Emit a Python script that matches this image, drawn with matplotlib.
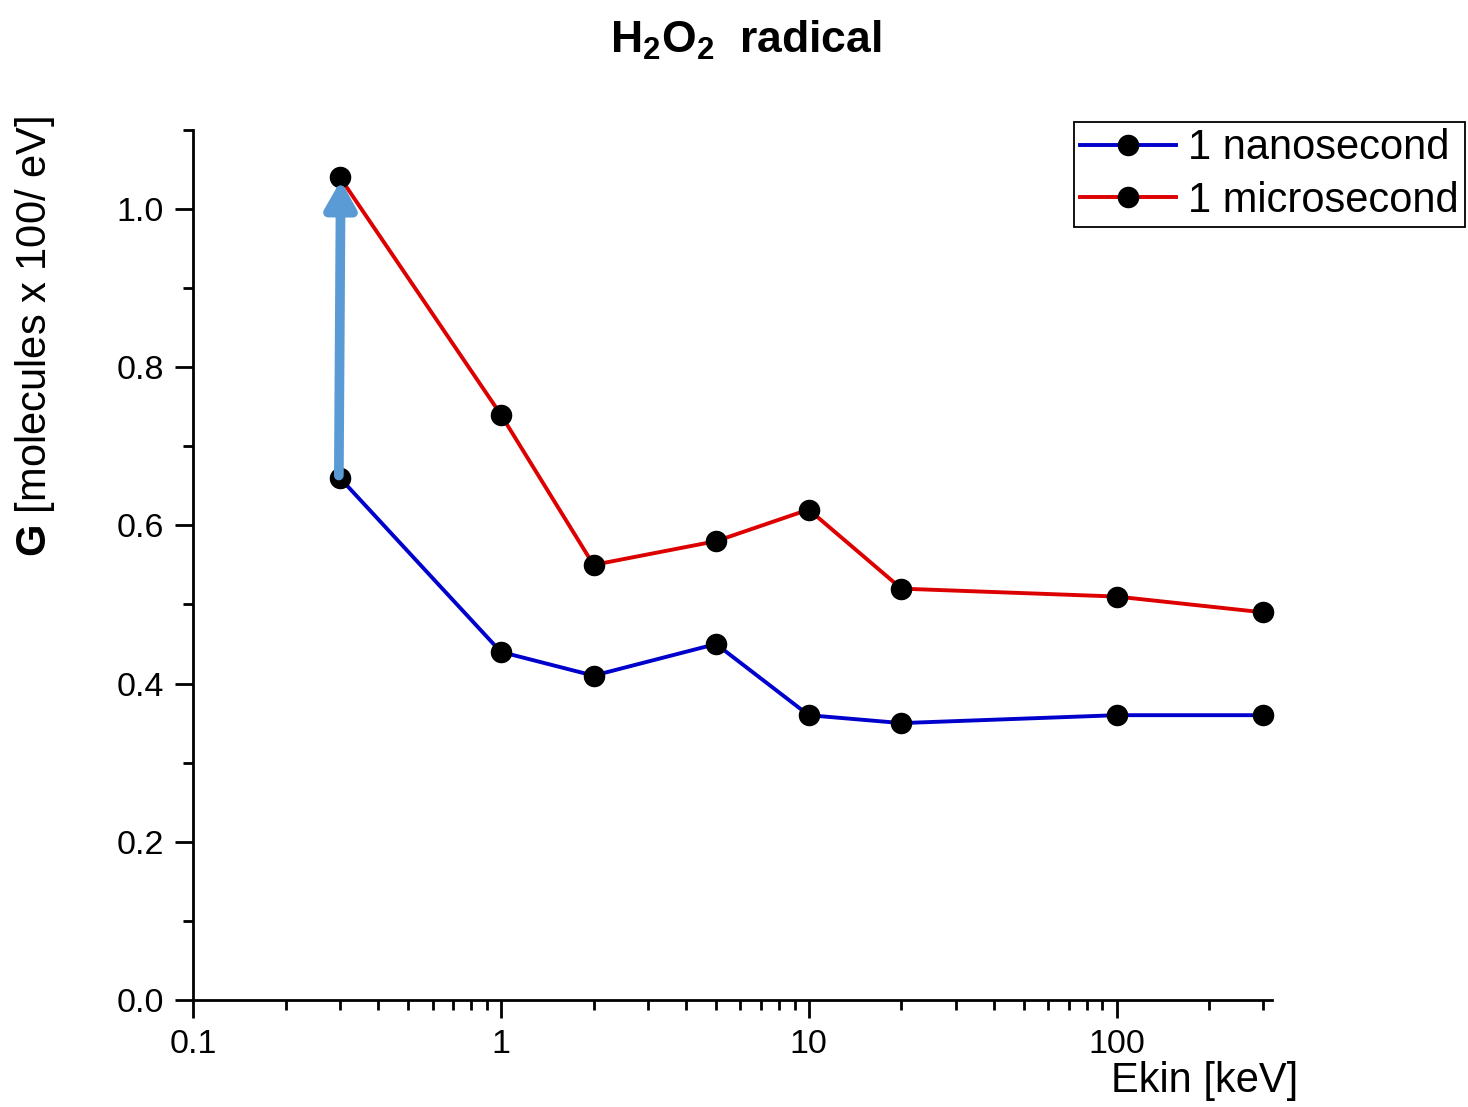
import matplotlib.pyplot as plt
from matplotlib.ticker import LogLocator, MultipleLocator, FixedLocator, FixedFormatter

plt.rcParams['font.family'] = ['Liberation Sans', 'DejaVu Sans']
plt.rcParams['mathtext.fontset'] = 'custom'
plt.rcParams['mathtext.rm'] = 'Liberation Sans'
plt.rcParams['mathtext.bf'] = 'Liberation Sans:bold'

ekin = [0.3, 1, 2, 5, 10, 20, 100, 300]
g_ns = [0.66, 0.44, 0.41, 0.45, 0.36, 0.35, 0.36, 0.36]
g_us = [1.04, 0.74, 0.55, 0.58, 0.62, 0.52, 0.51, 0.49]
x_ticks = [0.1, 1, 10, 100]
x_labels = ['0.1', '1', '10', '100']

fig = plt.figure(figsize=(14.68, 11.07), dpi=100)
ax = fig.add_axes([0.1315, 0.0967, 0.735, 0.786])

ax.plot(ekin, g_ns, color='#0000cc', lw=2.8, marker='o', ms=14.5,
        mfc='black', mec='black', label='1 nanosecond', zorder=3, clip_on=False)
ax.plot(ekin, g_us, color='#dd0000', lw=2.8, marker='o', ms=14.5,
        mfc='black', mec='black', label='1 microsecond', zorder=3, clip_on=False)

# arrow from 1 ns to 1 us at the lowest energy
ax.annotate('', xy=(ekin[0] * 1.006, g_us[0] - 0.004), xytext=(ekin[0] * 0.992, g_ns[0] + 0.003),
            arrowprops=dict(arrowstyle='-|>,head_width=0.9,head_length=1.6',
                            color='#5b9bd5', lw=7, shrinkA=0, shrinkB=0), zorder=4)

ax.set_xscale('log')
ax.set_xlim(0.1, 320)
ax.set_ylim(0, 1.1)
ax.xaxis.set_major_locator(FixedLocator(x_ticks))
ax.xaxis.set_major_formatter(FixedFormatter(x_labels))
ax.xaxis.set_minor_locator(LogLocator(base=10, subs=range(2, 10), numticks=20))
ax.yaxis.set_major_locator(MultipleLocator(0.2))
ax.yaxis.set_minor_locator(MultipleLocator(0.1))
ax.yaxis.set_major_formatter(plt.FuncFormatter(lambda v, p: f'{v:.1f}'))

for s in ['top', 'right']:
    ax.spines[s].set_visible(False)
for s in ['left', 'bottom']:
    ax.spines[s].set_linewidth(2)
ax.tick_params(which='major', direction='out', length=13, width=2, labelsize=24.5, pad=8)
ax.tick_params(which='minor', direction='out', length=7, width=2)

ax.set_ylabel(r'$\mathbf{G}$ [molecules x 100/ eV]', fontsize=30)
ax.yaxis.set_label_coords(-0.126, 0.762)
fig.text(1298 / 1468, 1 - 1081 / 1107, 'Ekin [keV]', fontsize=30, ha='right', va='center')
fig.text(0.508, 1 - 40 / 1107, r'$\mathbf{H_2O_2}$  radical', fontsize=32,
         fontweight='bold', ha='center', va='center')

leg = ax.legend(loc='upper right', bbox_to_anchor=(1465 / 1468, 1 - 122 / 1107),
                bbox_transform=fig.transFigure, fontsize=30, handlelength=2.3,
                fancybox=False, framealpha=1, borderpad=0.15, labelspacing=0.3,
                handletextpad=0.3, borderaxespad=0)
leg.get_frame().set_edgecolor('black')
leg.get_frame().set_linewidth(1.3)

fig.savefig('out.png', dpi=100)
